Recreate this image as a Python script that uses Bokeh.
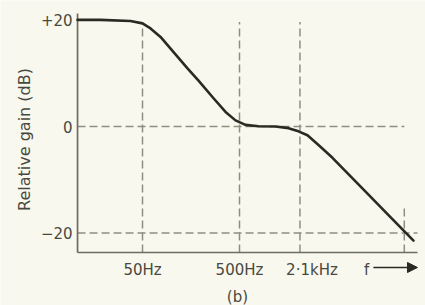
import math
from bokeh.plotting import figure
from bokeh.models import Range1d, Arrow, NormalHead
from bokeh.core.properties import value
from bokeh.embed import file_html
from bokeh.resources import INLINE

# ---- data ----
freq_hz = [10.7, 18.4, 37.6, 50, 60.5, 76.7, 104, 145.5, 189, 270, 359, 455, 576, 785,
           1175, 1600, 2028, 2511, 3262, 4545, 8230, 18000, 31100]
gain_db = [20.0, 20.0, 19.8, 19.35, 18.4, 16.8, 14.0, 10.9, 8.6, 5.3, 2.74, 1.15, 0.31, 0.06,
           0.0, -0.31, -0.91, -1.64, -3.46, -5.87, -10.67, -17.0, -21.4]

y_ticks = [20, 0, -20]
y_tick_labels = ["+20", "0", "\u221220"]

break_freqs = [50, 500, 2100]
break_labels = ["50Hz", "500Hz", "2\u00b71kHz"]
end_freq = 25000          # short marker where the curve reaches -20 dB

y_title = "Relative gain (dB)"
x_symbol = "f"
panel_tag = "(b)"

# ---- layout / style ----
BG = "#f8f8ee"
AXIS_C = "#6c6c60"
GRID_C = "#8e8e80"
CURVE_C = "#2a2a22"
TEXT_C = "#48483e"
FONT = "DejaVu Sans"

# whole figure is the frame; axes are drawn as glyphs
x_lo, x_hi = 1.718, 41360
y_lo, y_hi = -33.58, 23.64
axis_f = 10.7           # where the gain axis stands
axis_end_f = 34200      # right end of the frequency axis
axis_db = -23.64        # where the frequency axis lies
axis_top = 21.2
grid_top = 19.6
end_top = -15.3

p = figure(width=425, height=305, x_axis_type="log",
           x_range=Range1d(x_lo, x_hi), y_range=Range1d(y_lo, y_hi),
           output_backend="svg", toolbar_location=None,
           min_border=0, min_border_left=0, min_border_right=0,
           min_border_top=0, min_border_bottom=0)
p.axis.visible = False
p.grid.visible = False
p.background_fill_color = BG
p.border_fill_color = BG
p.outline_line_color = None

# dashed guide lines
n = len(break_freqs)
p.segment(x0=break_freqs, y0=[axis_db] * n, x1=break_freqs, y1=[grid_top] * n,
          line_color=GRID_C, line_width=1.5, line_dash="8 4")
p.segment(x0=[end_freq], y0=[axis_db], x1=[end_freq], y1=[end_top],
          line_color=GRID_C, line_width=1.5, line_dash="8 4")
p.segment(x0=[axis_f, axis_f], y0=[0, -20], x1=[end_freq, axis_end_f], y1=[0, -20],
          line_color=GRID_C, line_width=1.5, line_dash="8 4")

# axis lines
p.segment(x0=[axis_f, axis_f], y0=[axis_db, axis_db], x1=[axis_f, axis_end_f], y1=[axis_top, axis_db],
          line_color=AXIS_C, line_width=1.7)

# response curve
p.line(freq_hz, gain_db, line_color=CURVE_C, line_width=2.6, line_join="round", line_cap="round")

# gain tick labels
p.text(x=[axis_f] * len(y_ticks), y=y_ticks, text=y_tick_labels, x_offset=-5,
       text_align="right", text_baseline="middle",
       text_font=value(FONT), text_font_size="15px", text_color=TEXT_C)

# gain axis title
p.text(x=[3.04], y=[-2.44], text=[y_title], angle=math.pi / 2,
       text_align="center", text_baseline="middle",
       text_font=value(FONT), text_font_size="16px", text_color=TEXT_C)

# frequency labels
label_db = -26.83
p.text(x=break_freqs, y=[label_db] * n, text=break_labels, x_offset=[0, 0, 12],
       text_align="center", text_baseline="middle",
       text_font=value(FONT), text_font_size="15px", text_color=TEXT_C)

p.text(x=[10200], y=[label_db], text=[x_symbol],
       text_align="center", text_baseline="middle",
       text_font=value(FONT), text_font_size="15px", text_color=TEXT_C)
p.add_layout(Arrow(x_start=12000, y_start=-26.45, x_end=axis_end_f, y_end=-26.45,
                   line_color=CURVE_C, line_width=1.6,
                   end=NormalHead(size=10, fill_color=CURVE_C, line_color=CURVE_C)))

p.text(x=[476], y=[-31.9], text=[panel_tag],
       text_align="center", text_baseline="middle",
       text_font=value(FONT), text_font_size="15px", text_color=TEXT_C)

open("out.html", "w").write(file_html(p, INLINE))
